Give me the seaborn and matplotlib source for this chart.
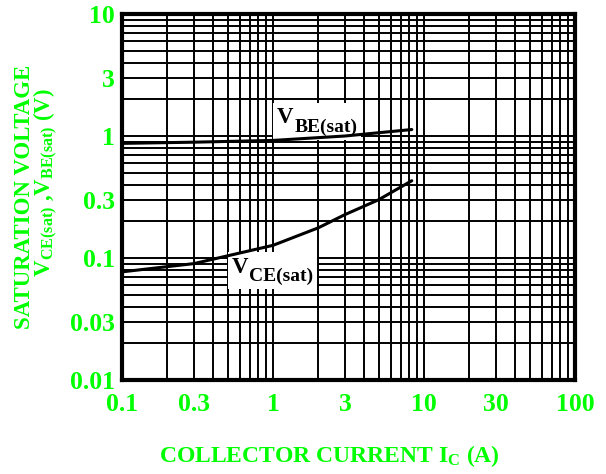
import matplotlib
matplotlib.use("Agg")
import matplotlib.pyplot as plt
import seaborn as sns
import pandas as pd
from matplotlib.ticker import FixedLocator, LogLocator, NullFormatter, FixedFormatter
from matplotlib.offsetbox import TextArea, HPacker, VPacker, DrawingArea, AnnotationBbox

# ---- data ----
ic_vbe = [0.1, 0.3, 1.0, 3.0, 8.3]
vbe_sat = [0.87, 0.89, 0.92, 1.00, 1.13]

ic_vce = [0.1, 0.3, 1.0, 2.0, 3.0, 5.0, 8.3]
vce_sat = [0.077, 0.090, 0.127, 0.177, 0.227, 0.30, 0.43]

x_ticks = [0.1, 0.3, 1, 3, 10, 30, 100]
x_ticklabels = ["0.1", "0.3", "1", "3", "10", "30", "100"]
y_ticks = [0.01, 0.03, 0.1, 0.3, 1, 3, 10]
y_ticklabels = ["0.01", "0.03", "0.1", "0.3", "1", "3", "10"]

GREEN = "#00ff00"
FONT = "Liberation Serif"

sns.set_style("white")
plt.rcParams["font.family"] = [FONT, "DejaVu Serif"]
plt.rcParams["font.weight"] = "bold"
plt.rcParams["mathtext.fontset"] = "custom"
plt.rcParams["mathtext.rm"] = FONT + ":bold"
plt.rcParams["mathtext.it"] = FONT + ":bold"
plt.rcParams["mathtext.bf"] = FONT + ":bold"
plt.rcParams["mathtext.default"] = "rm"

fig = plt.figure(figsize=(6.06, 4.74), dpi=100)
ax = fig.add_axes([122/606, 1-380/474, (575-122)/606, (380-14)/474])

df_be = pd.DataFrame({"ic": ic_vbe, "v": vbe_sat})
df_ce = pd.DataFrame({"ic": ic_vce, "v": vce_sat})
sns.lineplot(data=df_be, x="ic", y="v", ax=ax, color="black", linewidth=2.2, zorder=7)
sns.lineplot(data=df_ce, x="ic", y="v", ax=ax, color="black", linewidth=2.2, zorder=7)

ax.set_xscale("log")
ax.set_yscale("log")
ax.set_xlim(0.1, 100)
ax.set_ylim(0.01, 10)

ax.xaxis.set_major_locator(FixedLocator(x_ticks))
ax.xaxis.set_major_formatter(FixedFormatter(x_ticklabels))
ax.yaxis.set_major_locator(FixedLocator(y_ticks))
ax.yaxis.set_major_formatter(FixedFormatter(y_ticklabels))
ax.xaxis.set_minor_locator(LogLocator(base=10, subs=range(1, 10)))
ax.yaxis.set_minor_locator(LogLocator(base=10, subs=range(1, 10)))
ax.xaxis.set_minor_formatter(NullFormatter())
ax.yaxis.set_minor_formatter(NullFormatter())

ax.grid(True, which="both", color="black", linewidth=1.4)
ax.set_axisbelow(True)
ax.tick_params(which="both", length=0, labelsize=18.5, labelcolor=GREEN)
ax.tick_params(axis="x", pad=9.5)
ax.tick_params(axis="y", pad=5)
for lab in ax.get_xticklabels() + ax.get_yticklabels():
    lab.set_fontweight("bold")

for s in ax.spines.values():
    s.set_visible(True)
    s.set_color("black")
    s.set_linewidth(3)
    s.set_zorder(8)

ax.set_xlabel("")
ax.set_ylabel("")

fig.text(329/606, 1-462/474, r"COLLECTOR CURRENT I$_{C}$ (A)",
         ha="center", va="baseline", color=GREEN, fontsize=17, fontweight="bold")

ylab = "SATURATION VOLTAGE\n     " + r"V$_{CE(sat)}$ ,V$_{BE(sat)}$ (V)"
fig.text(37/606, 1-196.5/474, ylab, rotation=90, rotation_mode="anchor",
         ha="center", va="center", multialignment="center", linespacing=0.85,
         color=GREEN, fontsize=16.5, fontweight="bold")


def curve_label(main, sub, xy):
    ta_main = TextArea(main, textprops=dict(fontsize=16.5, fontweight="bold", color="black"))
    ta_sub = TextArea(sub, textprops=dict(fontsize=14, fontweight="bold", color="black"))
    col = VPacker(children=[DrawingArea(0.1, 8.1), ta_sub], align="left", pad=0, sep=0)
    row = HPacker(children=[ta_main, col], align="top", pad=0, sep=0.5)
    ab = AnnotationBbox(row, xy, xycoords="data", box_alignment=(0, 1), frameon=True,
                        pad=0.25, bboxprops=dict(facecolor="white", edgecolor="none",
                                                 boxstyle="square"), zorder=6)
    ax.add_artist(ab)


curve_label("V", "BE(sat)", (1.063, 1.718))
curve_label("V", "CE(sat)", (0.535, 0.1026))

fig.savefig("out.png", dpi=100, facecolor="white")
